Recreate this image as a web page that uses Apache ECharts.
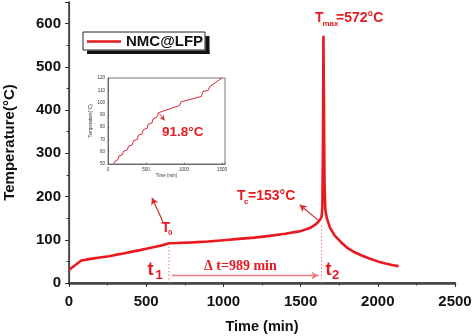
<!DOCTYPE html>
<html><head><meta charset="utf-8">
<script src="https://cdn.jsdelivr.net/npm/echarts@6/dist/echarts.min.js"></script>
<style>html,body{margin:0;padding:0;background:#fff}#c{width:474px;height:336px}</style>
</head><body><div id="c"></div>
<script>
// ---- data ----
const seriesName = 'NMC@LFP';
const mainTime = [0, 20, 50, 80, 110, 160, 200, 260, 300, 360, 400, 460, 500, 560, 600, 647, 700, 800, 900, 1000, 1100, 1200, 1300, 1400, 1500, 1560, 1600, 1625, 1636, 1641, 1645, 1648, 1651, 1655, 1660, 1670, 1690, 1720, 1760, 1800, 1850, 1900, 1950, 2000, 2050, 2100, 2135];
const mainTemp = [30, 36, 44, 52, 54, 57, 59, 62, 65, 69, 72, 76, 79, 84, 87, 91.8, 92.5, 94, 96, 99, 102, 105, 109, 114, 120, 127, 136, 146, 153, 175, 330, 572, 420, 230, 170, 150, 128, 110, 95, 82, 71, 63, 56, 50, 45, 41, 39];
const insetTime = [80, 95, 130, 145, 190, 205, 255, 270, 320, 335, 385, 400, 450, 465, 515, 530, 580, 595, 640, 667, 940, 960, 1230, 1250, 1320, 1340, 1500];
const insetTemp = [50.5, 52.5, 53.5, 56.5, 57.5, 60.5, 61.5, 64.5, 65.5, 69, 70, 73.5, 74.5, 78, 79, 82.5, 83.5, 87, 88, 91.8, 97.5, 100.5, 105, 109, 110, 113, 120];
const xTicks = [0, 500, 1000, 1500, 2000, 2500];
const yTicks = [0, 100, 200, 300, 400, 500, 600];
const t1 = 647, t2 = 1636;
const T0 = 91.8, Tc = 153, Tmax = 572, deltaT = 989;
const dtArrowY = 17.5;
// annotation arrows [from, to] in data coords
const arrowT0 = [[608, 142], [537, 197]];
const arrowTc = [[1611, 146], [1494, 181]];
const arrowInset = [[675, 91], [745, 85.5]];

const RED = '#e8191f';
const SANS = 'Liberation Sans, Arial, sans-serif';
const SERIF = 'Liberation Serif, Times New Roman, serif';

const chart = echarts.init(document.getElementById('c'), null, {renderer: 'canvas'});

function zip(a, b) { return a.map((v, i) => [v, b[i]]); }
const axisLineStyle = {color: '#333', width: 1.5};

function txt(x, y, s, size, opts) {
  return Object.assign({
    type: 'text', x: x, y: y, z: 100,
    style: {text: s, fill: RED, font: 'bold ' + size + 'px ' + SANS, textVerticalAlign: 'middle', textAlign: 'left'}
  }, opts || {});
}

const option = {
  animation: false,
  backgroundColor: '#fff',
  grid: [
    {left: 69, right: 19, top: 2, bottom: 53, containLabel: false, outerBoundsMode: 'none'},
    {left: 108, top: 78, width: 117, height: 86, containLabel: false, outerBoundsMode: 'none',
     show: true, borderColor: '#555', borderWidth: 0.8, backgroundColor: 'transparent'}
  ],
  legend: {
    data: [seriesName], left: 83, top: 32, icon: 'rect', itemWidth: 34, itemHeight: 2.5, z: 10,
    padding: [2, 2, 1, 4],
    textStyle: {fontFamily: SANS, fontWeight: 'bold', fontSize: 15, color: '#111'}
  },
  xAxis: [
    {type: 'value', gridIndex: 0, min: 0, max: 2500, interval: 500,
     name: 'Time (min)', nameLocation: 'middle', nameGap: 36,
     nameTextStyle: {fontFamily: SANS, fontWeight: 'bold', fontSize: 14.5, color: '#111'},
     axisLine: {show: true, lineStyle: axisLineStyle},
     axisTick: {show: true, inside: false, length: 4, lineStyle: {color: '#333', width: 1}},
     minorTick: {show: true, splitNumber: 2, length: 2.5, lineStyle: {color: '#333', width: 1}},
     axisLabel: {margin: 11, fontFamily: SANS, fontWeight: 'bold', fontSize: 15, color: '#111',
       formatter: v => xTicks.includes(v) ? String(v) : ''},
     splitLine: {show: false}},
    {type: 'value', gridIndex: 0, position: 'top', min: 0, max: 2500,
     axisLine: {show: true, lineStyle: {color: '#444', width: 2.5}},
     axisTick: {show: false}, axisLabel: {show: false}, splitLine: {show: false}},
    {type: 'value', gridIndex: 1, min: 0, max: 1540, interval: 500,
     name: 'Time (min)', nameLocation: 'middle', nameGap: 9,
     nameTextStyle: {fontFamily: SANS, fontSize: 4.5, color: '#333'},
     axisLine: {show: true, lineStyle: {color: '#555', width: 0.8}},
     axisTick: {show: true, inside: true, length: 1.5, lineStyle: {color: '#555', width: 0.6}},
     axisLabel: {margin: 3, fontFamily: SANS, fontSize: 4.5, color: '#333',
       formatter: v => (v % 500 === 0) ? String(v) : ''},
     splitLine: {show: false}}
  ],
  yAxis: [
    {type: 'value', gridIndex: 0, min: 0, max: 650, interval: 100,
     name: 'Temperature(°C)', nameLocation: 'middle', nameGap: 52, nameRotate: 90,
     nameTextStyle: {fontFamily: SANS, fontWeight: 'bold', fontSize: 15, color: '#111'},
     axisLine: {show: true, lineStyle: axisLineStyle},
     axisTick: {show: true, inside: false, length: 4, lineStyle: {color: '#333', width: 1}},
     minorTick: {show: true, splitNumber: 2, length: 2.5, lineStyle: {color: '#333', width: 1}},
     axisLabel: {margin: 8, fontFamily: SANS, fontWeight: 'bold', fontSize: 15, color: '#111',
       formatter: v => yTicks.includes(v) ? String(v) : ''},
     splitLine: {show: false}},
    {type: 'value', gridIndex: 0, position: 'right', min: 0, max: 650,
     axisLine: {show: true, lineStyle: {color: '#444', width: 1.2}},
     axisTick: {show: false}, axisLabel: {show: false}, splitLine: {show: false}},
    {type: 'value', gridIndex: 1, min: 50, max: 120, interval: 10,
     name: 'Temperature(°C)', nameLocation: 'middle', nameGap: 13,
     nameTextStyle: {fontFamily: SANS, fontSize: 4.5, color: '#333'},
     axisLine: {show: true, lineStyle: {color: '#555', width: 0.8}},
     axisTick: {show: true, inside: true, length: 1.5, lineStyle: {color: '#555', width: 0.6}},
     axisLabel: {margin: 3, fontFamily: SANS, fontSize: 4.5, color: '#333'},
     splitLine: {show: false}}
  ],
  series: [
    {name: seriesName, type: 'line', xAxisIndex: 0, yAxisIndex: 0, data: zip(mainTime, mainTemp),
     showSymbol: false, symbol: 'none', lineStyle: {color: RED, width: 2.6}, itemStyle: {color: RED}, z: 5,
     markLine: {
       silent: true, symbol: ['none', 'arrow'], symbolSize: [6, 7], animation: false,
       label: {show: false},
       lineStyle: {color: '#d83030', width: 1.2, type: 'solid'},
       data: [
         [{coord: arrowT0[0]}, {coord: arrowT0[1]}],
         [{coord: arrowTc[0]}, {coord: arrowTc[1]}],
         [{coord: [t1 + 20, dtArrowY], lineStyle: {color: '#f07a80', width: 1.3}}, {coord: [t2 - 20, dtArrowY]}]
       ]
     }},
    {name: 't1line', type: 'line', xAxisIndex: 0, yAxisIndex: 0, data: [[t1, 0], [t1, T0]],
     showSymbol: false, symbol: 'none', lineStyle: {color: '#f07a80', width: 1, type: [1.5, 2]}, z: 3},
    {name: 't2line', type: 'line', xAxisIndex: 0, yAxisIndex: 0, data: [[t2, 0], [t2, Tc - 20]],
     showSymbol: false, symbol: 'none', lineStyle: {color: '#f07a80', width: 1, type: [1.5, 2]}, z: 3},
    {name: 'inset', type: 'line', xAxisIndex: 2, yAxisIndex: 2, data: zip(insetTime, insetTemp),
     showSymbol: false, symbol: 'none', lineStyle: {color: '#d8283a', width: 1}, z: 5,
     markLine: {
       silent: true, symbol: ['none', 'arrow'], symbolSize: [4, 5], label: {show: false},
       lineStyle: {color: '#d8283a', width: 0.9, type: 'solid'},
       data: [[{coord: arrowInset[0]}, {coord: arrowInset[1]}]]
     }}
  ],
  graphic: [
    // legend box with drop shadow (shadow drawn as two strips)
    {type: 'rect', id: 'lgbox', x: 83, y: 32, z: 2, shape: {x: 0, y: 0, width: 122, height: 18}, style: {fill: '#fff', stroke: '#222', lineWidth: 1}},
    {type: 'rect', id: 'shR', x: 205.5, y: 36, z: 50, shape: {x: 0, y: 0, width: 4, height: 18}, style: {fill: '#111', stroke: null}},
    {type: 'rect', id: 'shB', x: 87, y: 50.5, z: 50, shape: {x: 0, y: 0, width: 122.5, height: 3.5}, style: {fill: '#111', stroke: null}},
    // T_max
    txt(315, 18, 'T', 14),
    txt(322.5, 24, 'max', 8, {}),
    txt(336, 18, '=' + Tmax + '°C', 14),
    // T_c
    txt(237, 196.5, 'T', 14),
    txt(244, 202, 'c', 8),
    txt(248, 196.5, '=' + Tc + '°C', 14),
    // T_0
    txt(161.5, 228, 'T', 14),
    txt(168, 233, '0', 8),
    // inset value
    txt(162, 132.5, T0 + '°C', 13.5),
    // t1, t2
    txt(147.5, 270.5, 't', 18),
    txt(155.5, 275.5, '1', 13),
    txt(325.5, 270.5, 't', 18),
    txt(332, 275.5, '2', 13),
    // delta t
    {type: 'text', x: 204, y: 266, z: 100,
     style: {text: 'Δ t=' + deltaT + ' min', fill: RED, font: 'bold 14px ' + SERIF, textVerticalAlign: 'middle', textAlign: 'left'}}
  ]
};
chart.setOption(option);
</script></body></html>
